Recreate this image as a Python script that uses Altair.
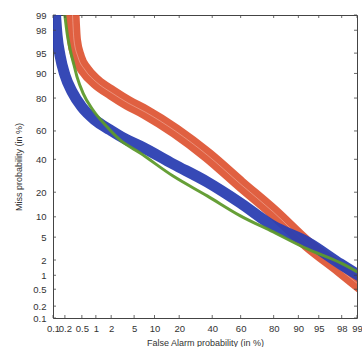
import altair as alt
import pandas as pd
from statistics import NormalDist

# DET curves: false-alarm vs miss probability (percent) on normal-deviate axes
red_fa = [0.30, 0.33, 0.41, 0.59, 1.01, 2.08, 3.99, 7.38, 18.1, 36.6, 59.8, 79.8, 92.5, 97.9, 99.3]
red_miss = [99.3, 97.0, 94.2, 91.0, 87.1, 82.4, 77.4, 72.3, 60.0, 43.0, 24.4, 11.6, 3.86, 1.28, 0.50]

blue_fa = [0.113, 0.127, 0.151, 0.20, 0.30, 0.50, 0.96, 1.91, 3.55, 6.2, 17.1, 36.6, 59.8, 79.8, 92.5, 97.9, 99.3]
blue_miss = [99.3, 97.55, 94.6, 89.5, 82.9, 75.2, 67.3, 60.7, 54.4, 49.4, 36.8, 25.5, 15.06, 7.42, 4.17, 1.68, 0.84]

green_fa = [0.19, 0.23, 0.27, 0.33, 0.39, 0.53, 0.87, 1.68, 2.9, 6.2, 17.1, 36.6, 59.8, 79.8, 92.5, 97.9, 99.3]
green_miss = [99.3, 97.55, 95.5, 92.4, 88.8, 82.4, 73.5, 62.7, 53.7, 44.4, 29.0, 18.2, 10.3, 6.03, 3.17, 1.76, 0.97]

tick_pct = [0.1, 0.2, 0.5, 1, 2, 5, 10, 20, 40, 60, 80, 90, 95, 98, 99]

nd = NormalDist()


def probit(p):
    return nd.inv_cdf(p / 100.0)


rows = []
for name, fa, miss in [("red", red_fa, red_miss), ("blue", blue_fa, blue_miss), ("green", green_fa, green_miss)]:
    for i, (f, m) in enumerate(zip(fa, miss)):
        rows.append({"system": name, "order": i, "fa": f, "miss": m,
                     "xp": probit(f), "yp": probit(m)})
df = pd.DataFrame(rows)

tick_vals = [probit(t) for t in tick_pct]
ticks_df = pd.DataFrame({"t": tick_vals})

# label expression mapping deviate values back to percent labels
expr = "''"
for v, t in reversed(list(zip(tick_vals, tick_pct))):
    lab = ("%g" % t)
    expr = f"abs(datum.value - ({v:.6f})) < 0.001 ? '{lab}' : ({expr})"

lo, hi = probit(0.1), probit(99)
W, H = 304, 303
xs = alt.Scale(domain=[lo, hi], nice=False, zero=False)
ys = alt.Scale(domain=[lo, hi], nice=False, zero=False)

font = "Liberation Sans"
xaxis = alt.Axis(values=tick_vals, labelExpr=expr, grid=False, domain=False, ticks=False,
                 labelOverlap=False, labelFlush=False, labelFontSize=9.5, labelColor="#333",
                 labelPadding=5, labelFont=font, title="False Alarm probability (in %)",
                 titleFont=font, titleFontSize=9, titleFontWeight="normal", titleColor="#333",
                 titleBaseline="alphabetic", titleY=27, titleX=W / 2)
yaxis = alt.Axis(values=tick_vals, labelExpr=expr, grid=False, domain=False, ticks=False,
                 labelOverlap=False, labelFlush=False, labelFontSize=9.5, labelColor="#333",
                 labelPadding=7, labelFont=font, title="Miss probability (in %)",
                 titleFont=font, titleFontSize=9, titleFontWeight="normal", titleColor="#333",
                 titleAngle=-90, titleAlign="center", titleBaseline="middle",
                 titleX=-35, titleY=H / 2)

colors = {"red": "#DE5737", "blue": "#2B3FB2", "green": "#5E9A2C"}
widths = {"red": 14, "blue": 11, "green": 3}


def curve(name, color, width, opacity):
    return alt.Chart(df[df.system == name]).mark_line(
        color=color, strokeWidth=width, clip=True, interpolate="monotone",
        strokeJoin="round", strokeCap="round", opacity=opacity
    ).encode(
        x=alt.X("xp:Q", scale=xs, axis=xaxis),
        y=alt.Y("yp:Q", scale=ys, axis=yaxis),
        order="order:Q",
    )


layers = [
    curve("red", colors["red"], widths["red"], 0.95),
    # faint light streak through the red bundle
    curve("red", "#FFFFFF", 1, 0.3),
    curve("blue", colors["blue"], widths["blue"], 0.95),
    curve("green", colors["green"], widths["green"], 0.95),
]

# inward tick marks on all four sides of the box
tcol = "#444"
tx = alt.Chart(ticks_df).encode(x=alt.X("t:Q", scale=xs, axis=xaxis))
ty = alt.Chart(ticks_df).encode(y=alt.Y("t:Q", scale=ys, axis=yaxis))
tick_layers = [
    tx.mark_rule(color=tcol, strokeWidth=0.8).encode(y=alt.value(H - 3), y2=alt.value(H)),
    tx.mark_rule(color=tcol, strokeWidth=0.8).encode(y=alt.value(0), y2=alt.value(3)),
    ty.mark_rule(color=tcol, strokeWidth=0.8).encode(x=alt.value(0), x2=alt.value(3)),
    ty.mark_rule(color=tcol, strokeWidth=0.8).encode(x=alt.value(W - 3), x2=alt.value(W)),
]

chart = alt.layer(*layers, *tick_layers).properties(
    width=W, height=H,
    autosize=alt.AutoSizeParams(type="none"),
    padding={"left": 53, "top": 15, "right": 5, "bottom": 29},
    background="white",
).configure_view(stroke="#444", strokeWidth=1)

chart.save("out.html", embed_options={"renderer": "svg", "actions": False})
